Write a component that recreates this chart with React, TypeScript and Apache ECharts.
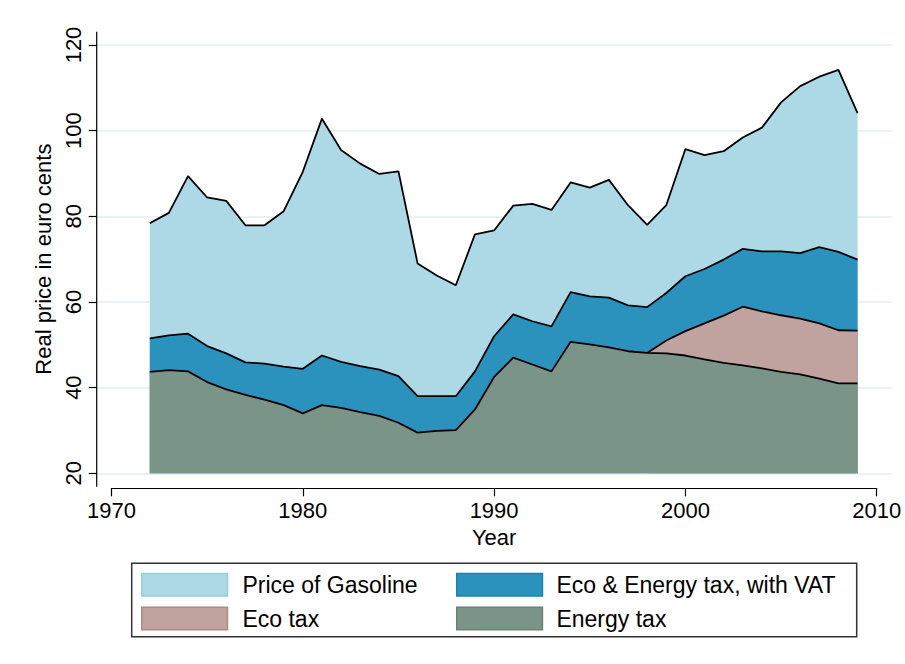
import React, { useEffect, useRef } from "react";
import * as echarts from "echarts";

const years = [
  1972, 1973, 1974, 1975, 1976, 1977, 1978, 1979, 1980, 1981, 1982, 1983, 1984,
  1985, 1986, 1987, 1988, 1989, 1990, 1991, 1992, 1993, 1994, 1995, 1996, 1997,
  1998, 1999, 2000, 2001, 2002, 2003, 2004, 2005, 2006, 2007, 2008, 2009,
];

const priceOfGasoline = [
  78.4, 80.8, 89.4, 84.4, 83.6, 77.9, 77.9, 81.2, 90.4, 102.8, 95.5, 92.3, 89.9,
  90.5, 69.0, 66.2, 63.9, 75.8, 76.7, 82.5, 82.9, 81.5, 87.9, 86.7, 88.5, 82.6,
  78.0, 82.6, 95.7, 94.3, 95.2, 98.4, 100.7, 106.6, 110.4, 112.6, 114.2, 104.1,
];

const ecoEnergyTaxVat = [
  51.5, 52.2, 52.6, 49.7, 48.0, 45.9, 45.6, 44.9, 44.4, 47.5, 46.0, 45.0, 44.2,
  42.7, 38.0, 38.0, 38.0, 43.8, 52.0, 57.1, 55.5, 54.3, 62.3, 61.3, 61.0, 59.2,
  58.8, 62.1, 66.0, 67.7, 69.9, 72.4, 71.8, 71.8, 71.4, 72.8, 71.7, 69.9,
];

const ecoTax: (number | null)[] = [
  null, null, null, null, null, null, null, null, null, null, null, null, null,
  null, null, null, null, null, null, null, null, null, null, null, null, null,
  48.1, 51.0, 53.2, 55.0, 56.8, 58.9, 57.8, 56.9, 56.1, 55.0, 53.4, 53.3,
];

const energyTax = [
  43.7, 44.1, 43.8, 41.3, 39.6, 38.3, 37.2, 35.9, 34.0, 35.9, 35.3, 34.3, 33.4,
  31.8, 29.5, 29.9, 30.1, 34.9, 42.5, 47.0, 45.4, 43.8, 50.7, 50.1, 49.4, 48.5,
  48.1, 48.0, 47.5, 46.6, 45.8, 45.2, 44.5, 43.7, 43.1, 42.1, 41.0, 41.0,
];

const xTicks = { min: 1970, max: 2010, interval: 10 };
const yTicks = { min: 20, max: 120, interval: 20 };

const FONT = "'Liberation Sans', Arial, Helvetica, sans-serif";

const C_PRICE = "#add8e6";
const C_VAT = "#2b92be";
const C_ECO = "#c0a29e";
const C_ENERGY = "#7a9488";

export default function App() {
  const ref = useRef<HTMLDivElement>(null);

  useEffect(() => {
    if (!ref.current) return;
    const chart = echarts.init(ref.current, null, { renderer: "svg" });

    // layout in pixels
    const X0 = 111.5; // 1970
    const X1 = 876.7; // 2010
    const PL = 96.7; // plot region left
    const PR = 891.7; // plot region right
    const ppy = (X1 - X0) / (xTicks.max - xTicks.min);
    const xMinWide = xTicks.min - (X0 - PL) / ppy;
    const xMaxWide = xTicks.max + (PR - X1) / ppy;
    const TOP = 45;
    const BOT = 473.3;
    const XAXIS_Y = 488.3;

    const pair = (arr: (number | null)[]) =>
      years.map((y, i) => [y, arr[i] === null ? null : arr[i]]);

    const lineStyle = { color: "#000", width: 1.8 };

    const mkSeries = (name: string, arr: (number | null)[], color: string, z: number) => ({
      type: "line",
      name,
      xAxisIndex: 0,
      yAxisIndex: 0,
      data: pair(arr),
      symbol: "none",
      showSymbol: false,
      connectNulls: false,
      lineStyle,
      itemStyle: { color },
      areaStyle: { color, opacity: 1, origin: "start" },
      z,
      silent: true,
    });

    const legendText = {
      fontSize: 23,
      fontFamily: FONT,
      color: "#000",
      lineHeight: 23,
    };

    const option: any = {
      animation: false,
      backgroundColor: "#fff",
      grid: [
        { left: PL, top: TOP, width: PR - PL, height: BOT - TOP, containLabel: false },
        { left: X0, top: TOP, width: X1 - X0, height: XAXIS_Y - TOP, containLabel: false },
      ],
      xAxis: [
        {
          type: "value",
          gridIndex: 0,
          min: xMinWide,
          max: xMaxWide,
          show: false,
        },
        {
          type: "value",
          gridIndex: 1,
          min: xTicks.min,
          max: xTicks.max,
          interval: xTicks.interval,
          position: "bottom",
          axisLine: { show: true, onZero: false, lineStyle: { color: "#000", width: 1.2 } },
          axisTick: { show: true, inside: false, length: 8, lineStyle: { color: "#000", width: 1.2 } },
          axisLabel: {
            show: true,
            margin: 11,
            fontSize: 22,
            fontFamily: FONT,
            color: "#000",
            formatter: (v: number) => String(v),
          },
          splitLine: { show: false },
          name: "Year",
          nameLocation: "middle",
          nameGap: 38,
          nameTextStyle: { fontSize: 22, fontFamily: FONT, color: "#000" },
        },
      ],
      yAxis: [
        {
          type: "value",
          gridIndex: 0,
          min: yTicks.min,
          max: yTicks.max,
          interval: yTicks.interval,
          position: "left",
          axisLine: { show: false },
          axisTick: { show: true, inside: false, length: 8, lineStyle: { color: "#000", width: 1.2 } },
          axisLabel: {
            show: true,
            rotate: 90,
            margin: 12,
            fontSize: 22,
            fontFamily: FONT,
            color: "#000",
          },
          splitLine: { show: true, lineStyle: { color: "#e3eef0", width: 1.6 } },
          name: "Real price in euro cents",
          nameLocation: "middle",
          nameGap: 41,
          nameTextStyle: { fontSize: 22, fontFamily: FONT, color: "#000" },
        },
        {
          type: "value",
          gridIndex: 1,
          min: 0,
          max: 1,
          show: false,
        },
      ],
      legend: [
        {
          left: 141,
          top: 572.7,
          orient: "vertical",
          padding: 0,
          itemWidth: 85.7,
          itemHeight: 22.5,
          itemGap: 9.8,
          icon: "rect",
          selectedMode: false,
          textStyle: { ...legendText, padding: [0, 0, 0, 10] },
          data: [
            { name: "Price of Gasoline", icon: "rect", itemStyle: { color: C_PRICE, borderColor: "#98cddd", borderWidth: 1.5 } },
            { name: "Eco tax", icon: "rect", itemStyle: { color: C_ECO, borderColor: "#ad8c87", borderWidth: 1.5 } },
          ],
        },
        {
          left: 456,
          top: 572.7,
          orient: "vertical",
          padding: 0,
          itemWidth: 85.7,
          itemHeight: 22.5,
          itemGap: 9.8,
          icon: "rect",
          selectedMode: false,
          textStyle: { ...legendText, padding: [0, 0, 0, 9] },
          data: [
            { name: "Eco & Energy tax, with VAT", icon: "rect", itemStyle: { color: C_VAT, borderColor: "#1f7fae", borderWidth: 1.5 } },
            { name: "Energy tax", icon: "rect", itemStyle: { color: C_ENERGY, borderColor: "#68837a", borderWidth: 1.5 } },
          ],
        },
      ],
      graphic: [
        {
          type: "line",
          shape: { x1: PL, y1: 31.7, x2: PL, y2: 486.7 },
          style: { stroke: "#000", lineWidth: 1.2 },
          z: 10,
        },
        {
          type: "rect",
          shape: { x: 131.7, y: 563.3, width: 725, height: 73.4 },
          style: { fill: "none", stroke: "#333", lineWidth: 1.5 },
          z: 10,
        },
      ],
      series: [
        mkSeries("Price of Gasoline", priceOfGasoline, C_PRICE, 2),
        mkSeries("Eco & Energy tax, with VAT", ecoEnergyTaxVat, C_VAT, 3),
        mkSeries("Eco tax", ecoTax, C_ECO, 4),
        mkSeries("Energy tax", energyTax, C_ENERGY, 5),
      ],
    };

    chart.setOption(option);
    return () => chart.dispose();
  }, []);

  return (
    <div
      ref={ref}
      style={{ position: "fixed", left: 0, top: 0, width: 905, height: 664, background: "#fff" }}
    />
  );
}
